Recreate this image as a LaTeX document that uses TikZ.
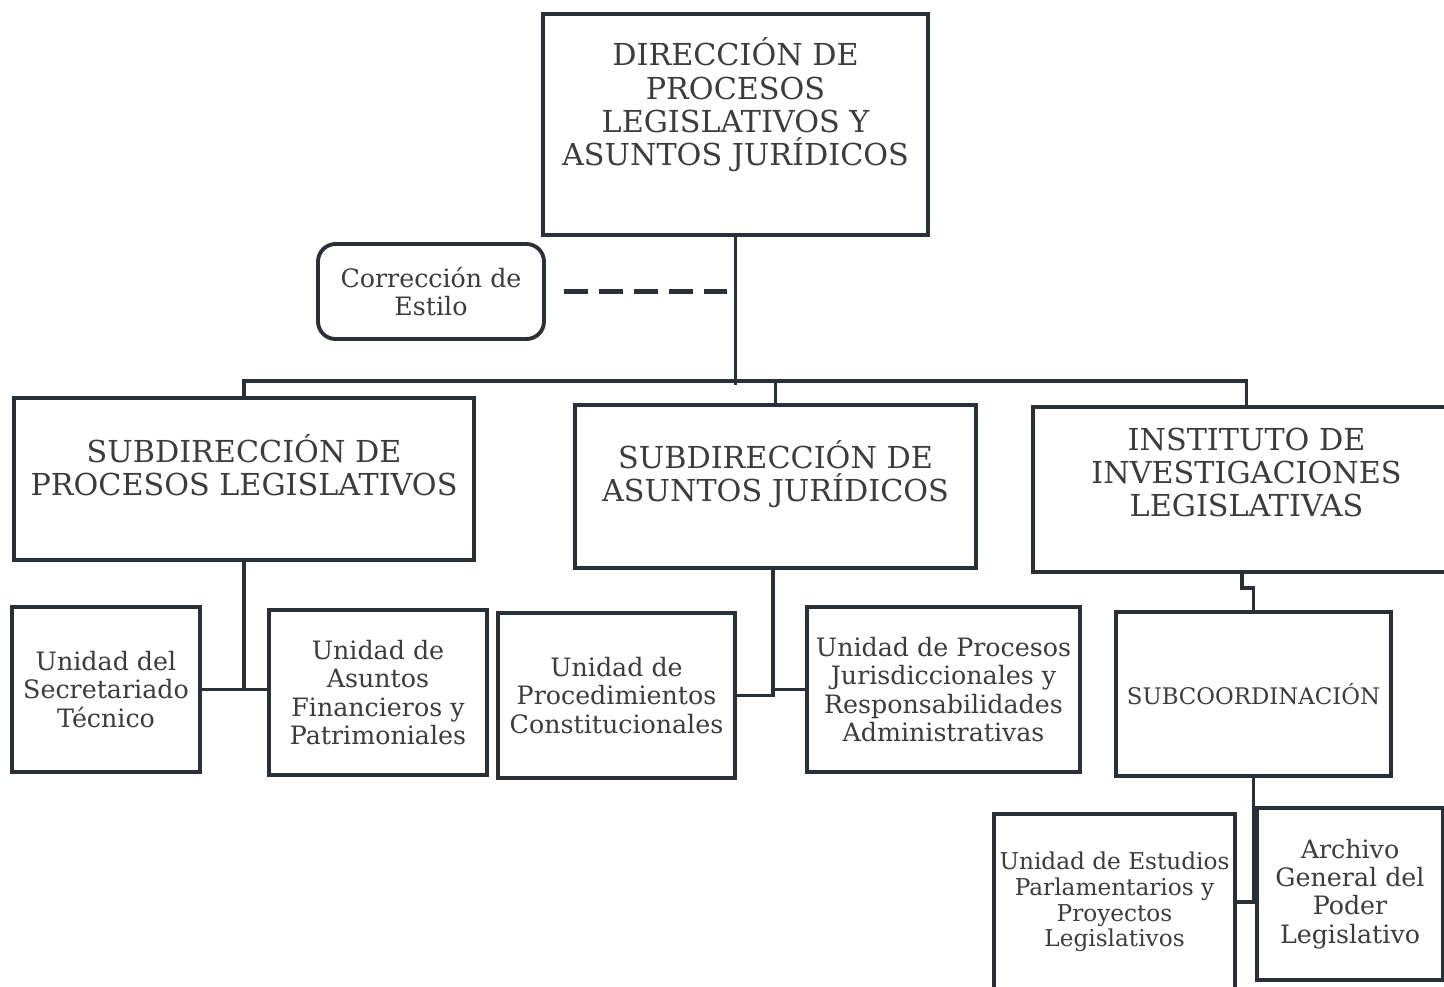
\documentclass[tikz,border=0pt]{standalone}
\usepackage{fontspec}
\setmainfont{DejaVu Serif}
\usepackage{xcolor}
\usetikzlibrary{positioning,calc}
\definecolor{ink}{HTML}{2A3038}
\definecolor{inktext}{HTML}{3C3C3C}
\definecolor{paper}{HTML}{FFFFFF}
\tikzset{
  headbox/.style={draw=ink,fill=paper,line width=1.1pt,align=center,
                  inner sep=2pt,font=\fontsize{8.6}{9.4}\selectfont,text=inktext},
  unitbox/.style={draw=ink,fill=paper,line width=1.1pt,align=center,
                  inner sep=1pt,font=\fontsize{7.2}{8}\selectfont,text=inktext},
  notebox/.style={unitbox,rounded corners=5pt},
  link/.style={draw=ink,line width=1.0pt},
  dashlink/.style={draw=ink,line width=1.2pt,dash pattern=on 2.4mm off 1.1mm}
}
\begin{document}
\begin{tikzpicture}[x=1cm,y=1cm]
    \path[use as bounding box,fill=white] (0,0) rectangle (14.44,-9.86);
    \node[headbox,minimum width=3.85cm,minimum height=2.21cm,text depth=0.46cm]
      (dir) at (7.355,-1.245)
      {DIRECCIÓN DE\\PROCESOS\\LEGISLATIVOS Y\\ASUNTOS JURÍDICOS};
    \node[notebox,minimum width=2.26cm,minimum height=0.95cm] (estilo) at (4.31,-2.915)
      {Corrección de\\Estilo};
    \node[headbox,minimum width=4.60cm,minimum height=1.62cm,text depth=0.29cm]
      (subproc) at (2.44,-4.79) {SUBDIRECCIÓN DE\\PROCESOS LEGISLATIVOS};
    \node[headbox,minimum width=4.01cm,minimum height=1.63cm,text depth=0.31cm]
      (subjur) at (7.755,-4.865) {SUBDIRECCIÓN DE\\ASUNTOS JURÍDICOS};
    \node[headbox,minimum width=4.27cm,minimum height=1.65cm,text depth=0.34cm]
      (inst) at (12.465,-4.895) {INSTITUTO DE\\INVESTIGACIONES\\LEGISLATIVAS};

    \node[unitbox,minimum width=1.88cm,minimum height=1.65cm] (secret) at (1.06,-6.895)
      {Unidad del\\Secretariado\\Técnico};
    \node[unitbox,minimum width=2.18cm,minimum height=1.65cm] (financ) at (3.78,-6.925)
      {Unidad de\\Asuntos\\Financieros y\\Patrimoniales};
    \node[unitbox,minimum width=2.37cm,minimum height=1.65cm] (constit) at (6.165,-6.955)
      {Unidad de\\Procedimientos\\Constitucionales};
    \node[unitbox,minimum width=2.73cm,minimum height=1.65cm] (jurisd) at (9.435,-6.895)
      {Unidad de Procesos\\Jurisdiccionales y\\Responsabilidades\\Administrativas};
    \node[unitbox,minimum width=2.75cm,minimum height=1.64cm,
      font=\fontsize{6.5}{8}\selectfont] (subcoord) at (12.535,-6.94) {SUBCOORDINACIÓN};
    \node[unitbox,minimum width=2.41cm,minimum height=1.76cm,
      font=\fontsize{6.6}{7.3}\selectfont] (estudios) at (11.145,-9.02)
      {Unidad de Estudios\\Parlamentarios y\\Proyectos\\Legislativos};
    \node[unitbox,minimum width=1.86cm,minimum height=1.72cm] (archivo) at (13.50,-8.94)
      {Archivo\\General del\\Poder\\Legislativo};

    \draw[link] (dir.south) -- ++(0,-1.48);
    \draw[link] (subproc.north) -- ++(0,0.15) -| (inst.north);
    \draw[link] (subjur.north) -- ++(0,0.22);
    \draw[dashlink] ([xshift=1.8mm]estilo.east) -- ++(1.63,0);
    \draw[link] (subproc.south) -- (subproc.south |- secret.east);
    \draw[link] (secret.east) -- (financ.west |- secret.east);
    \draw[link] (constit.east) -| ([xshift=-0.25mm]subjur.south);
    \draw[link] (jurisd.west) -| ([xshift=-0.25mm]subjur.south);
    \draw[link] (subcoord.north) -- ++(0,0.22) -| ([xshift=-0.45mm]inst.south);
    \draw[link] (subcoord.south) |- (estudios.east);
  \end{tikzpicture}
\end{document}
